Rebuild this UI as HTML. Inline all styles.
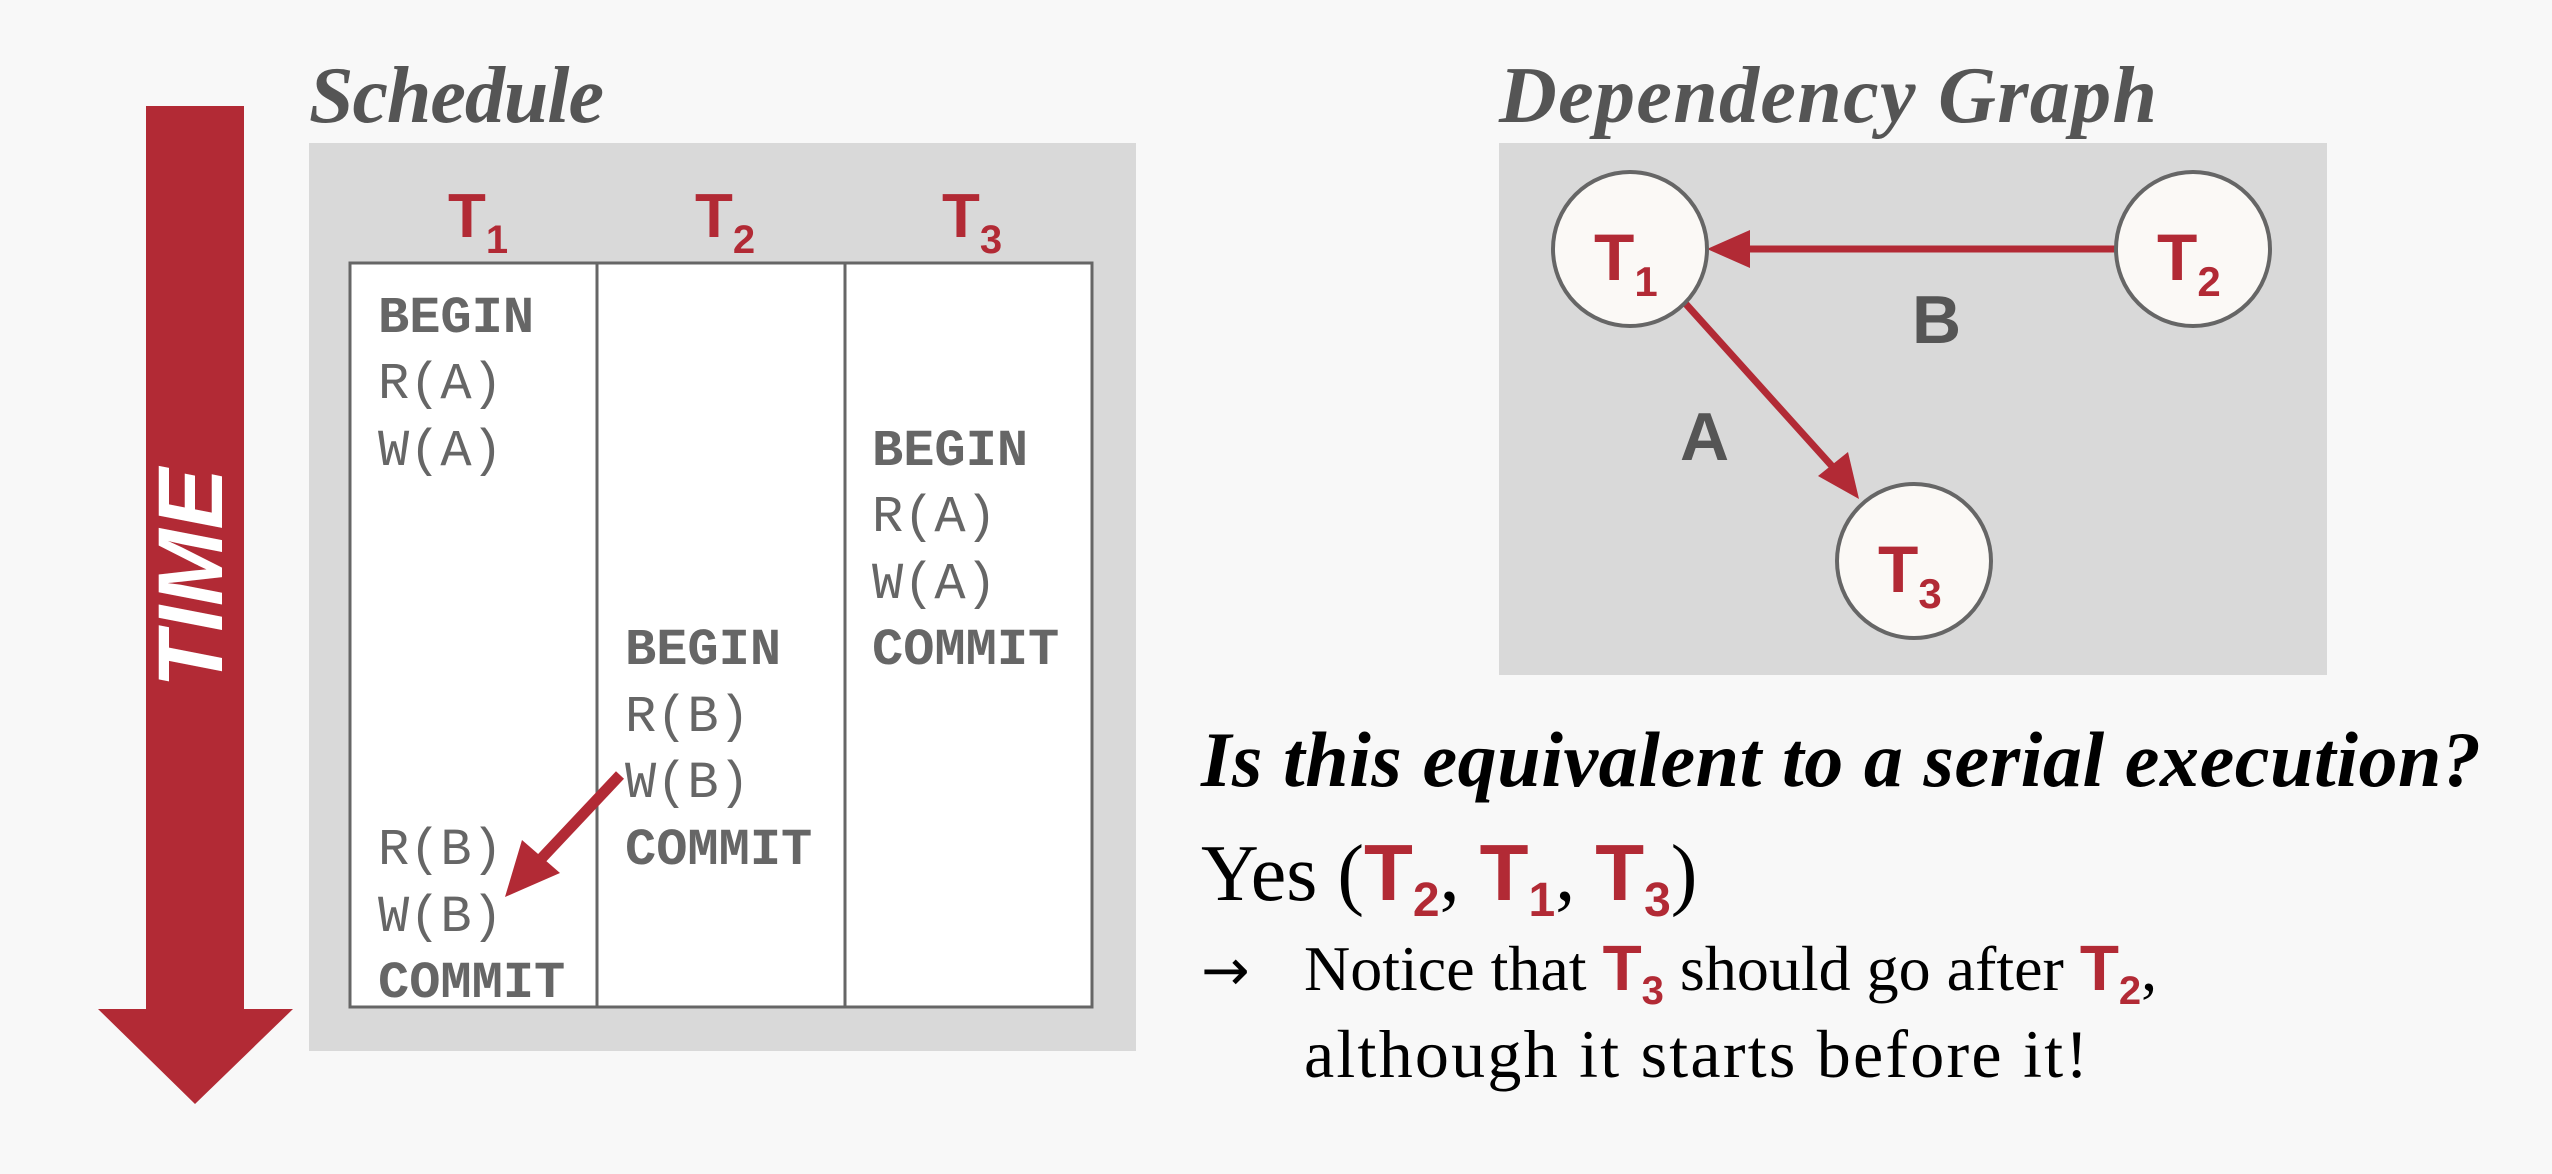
<!DOCTYPE html>
<html><head><meta charset="utf-8"><style>
html,body{margin:0;padding:0;background:#f8f8f8;}
svg{display:block}
</style></head><body>
<svg width="2552" height="1174" viewBox="0 0 2552 1174" xmlns="http://www.w3.org/2000/svg">
<rect width="2552" height="1174" fill="#f8f8f8"/>
<!-- TIME arrow -->
<polygon points="146,106 244,106 244,1009 293,1009 195,1104 98,1009 146,1009" fill="#b22a35"/>
<text x="0" y="0" transform="translate(222,578) rotate(-90)" text-anchor="middle" font-family="Liberation Sans, sans-serif" font-weight="bold" font-style="italic" font-size="92" fill="#fff">TIME</text>

<!-- Schedule -->
<text x="309" y="122" font-family="Liberation Serif, serif" font-weight="bold" font-style="italic" font-size="80" fill="#555" textLength="295">Schedule</text>
<rect x="309" y="143" width="827" height="908" fill="#d9d9d9"/>
<rect x="350" y="263" width="742" height="744" fill="#fff" stroke="#666" stroke-width="3"/>
<line x1="597" y1="263" x2="597" y2="1007" stroke="#666" stroke-width="3"/>
<line x1="845" y1="263" x2="845" y2="1007" stroke="#666" stroke-width="3"/>
<g font-family="Liberation Sans, sans-serif" font-weight="bold" fill="#b22a35">
<text x="448" y="237" font-size="62">T<tspan font-size="40" dy="16">1</tspan></text>
<text x="695" y="237" font-size="62">T<tspan font-size="40" dy="16">2</tspan></text>
<text x="942" y="237" font-size="62">T<tspan font-size="40" dy="16">3</tspan></text>
</g>
<g font-family="Liberation Mono, monospace" font-size="52" fill="#666">
<text x="378" y="332" font-weight="bold">BEGIN</text>
<text x="378" y="398">R(A)</text>
<text x="378" y="465">W(A)</text>
<text x="378" y="864">R(B)</text>
<text x="378" y="931">W(B)</text>
<text x="378" y="997" font-weight="bold">COMMIT</text>
<text x="872" y="465" font-weight="bold">BEGIN</text>
<text x="872" y="531">R(A)</text>
<text x="872" y="598">W(A)</text>
<text x="872" y="664" font-weight="bold">COMMIT</text>
<text x="625" y="664" font-weight="bold">BEGIN</text>
<text x="625" y="731">R(B)</text>
<text x="625" y="797">W(B)</text>
<text x="625" y="864" font-weight="bold">COMMIT</text>
</g>
<line x1="620" y1="775" x2="540" y2="860" stroke="#b22a35" stroke-width="11"/>
<polygon points="505,897 522,840 560,873" fill="#b22a35"/>

<!-- Dependency graph -->
<text x="1499" y="122" font-family="Liberation Serif, serif" font-weight="bold" font-style="italic" font-size="80" fill="#555" textLength="658">Dependency Graph</text>
<rect x="1499" y="143" width="828" height="532" fill="#d9d9d9"/>
<line x1="2116" y1="249" x2="1740" y2="249" stroke="#b22a35" stroke-width="7"/>
<polygon points="1707,249 1750,230 1750,268" fill="#b22a35"/>
<line x1="1685" y1="303" x2="1840" y2="475" stroke="#b22a35" stroke-width="7"/>
<polygon points="1859,499 1818,476 1848,452" fill="#b22a35"/>
<g fill="#fbf9f6" stroke="#666" stroke-width="4">
<circle cx="1630" cy="249" r="77"/>
<circle cx="2193" cy="249" r="77"/>
<circle cx="1914" cy="561" r="77"/>
</g>
<g font-family="Liberation Sans, sans-serif" font-weight="bold" fill="#b22a35">
<text x="1594" y="280" font-size="66">T<tspan font-size="42" dy="16">1</tspan></text>
<text x="2157" y="280" font-size="66">T<tspan font-size="42" dy="16">2</tspan></text>
<text x="1878" y="592" font-size="66">T<tspan font-size="42" dy="16">3</tspan></text>
</g>
<g font-family="Liberation Sans, sans-serif" font-weight="bold" fill="#555" font-size="68">
<text x="1912" y="343">B</text>
<text x="1680" y="460">A</text>
</g>

<!-- Question text -->
<text x="1201" y="786" font-family="Liberation Serif, serif" font-weight="bold" font-style="italic" font-size="78" fill="#000" textLength="1280">Is this equivalent to a serial execution?</text>
<text x="1201" y="900" font-family="Liberation Serif, serif" font-size="80" fill="#000">Yes (<tspan font-family="Liberation Sans, sans-serif" font-weight="bold" fill="#b22a35">T</tspan><tspan font-family="Liberation Sans, sans-serif" font-weight="bold" fill="#b22a35" font-size="48" dy="16">2</tspan><tspan dy="-16">, </tspan><tspan font-family="Liberation Sans, sans-serif" font-weight="bold" fill="#b22a35">T</tspan><tspan font-family="Liberation Sans, sans-serif" font-weight="bold" fill="#b22a35" font-size="48" dy="16">1</tspan><tspan dy="-16">, </tspan><tspan font-family="Liberation Sans, sans-serif" font-weight="bold" fill="#b22a35">T</tspan><tspan font-family="Liberation Sans, sans-serif" font-weight="bold" fill="#b22a35" font-size="48" dy="16">3</tspan><tspan dy="-16">)</tspan></text>
<text x="1201" y="990" font-family="DejaVu Sans, sans-serif" font-size="58" fill="#000">→</text>
<text x="1304" y="990" font-family="Liberation Serif, serif" font-size="64" fill="#000">Notice that <tspan font-family="Liberation Sans, sans-serif" font-weight="bold" fill="#b22a35">T</tspan><tspan font-family="Liberation Sans, sans-serif" font-weight="bold" fill="#b22a35" font-size="40" dy="14">3</tspan><tspan dy="-14"> should go after </tspan><tspan font-family="Liberation Sans, sans-serif" font-weight="bold" fill="#b22a35">T</tspan><tspan font-family="Liberation Sans, sans-serif" font-weight="bold" fill="#b22a35" font-size="40" dy="14">2</tspan><tspan dy="-14">,</tspan></text>
<text x="1304" y="1077" font-family="Liberation Serif, serif" font-size="68" fill="#000" textLength="784">although it starts before it!</text>
</svg>
</body></html>
